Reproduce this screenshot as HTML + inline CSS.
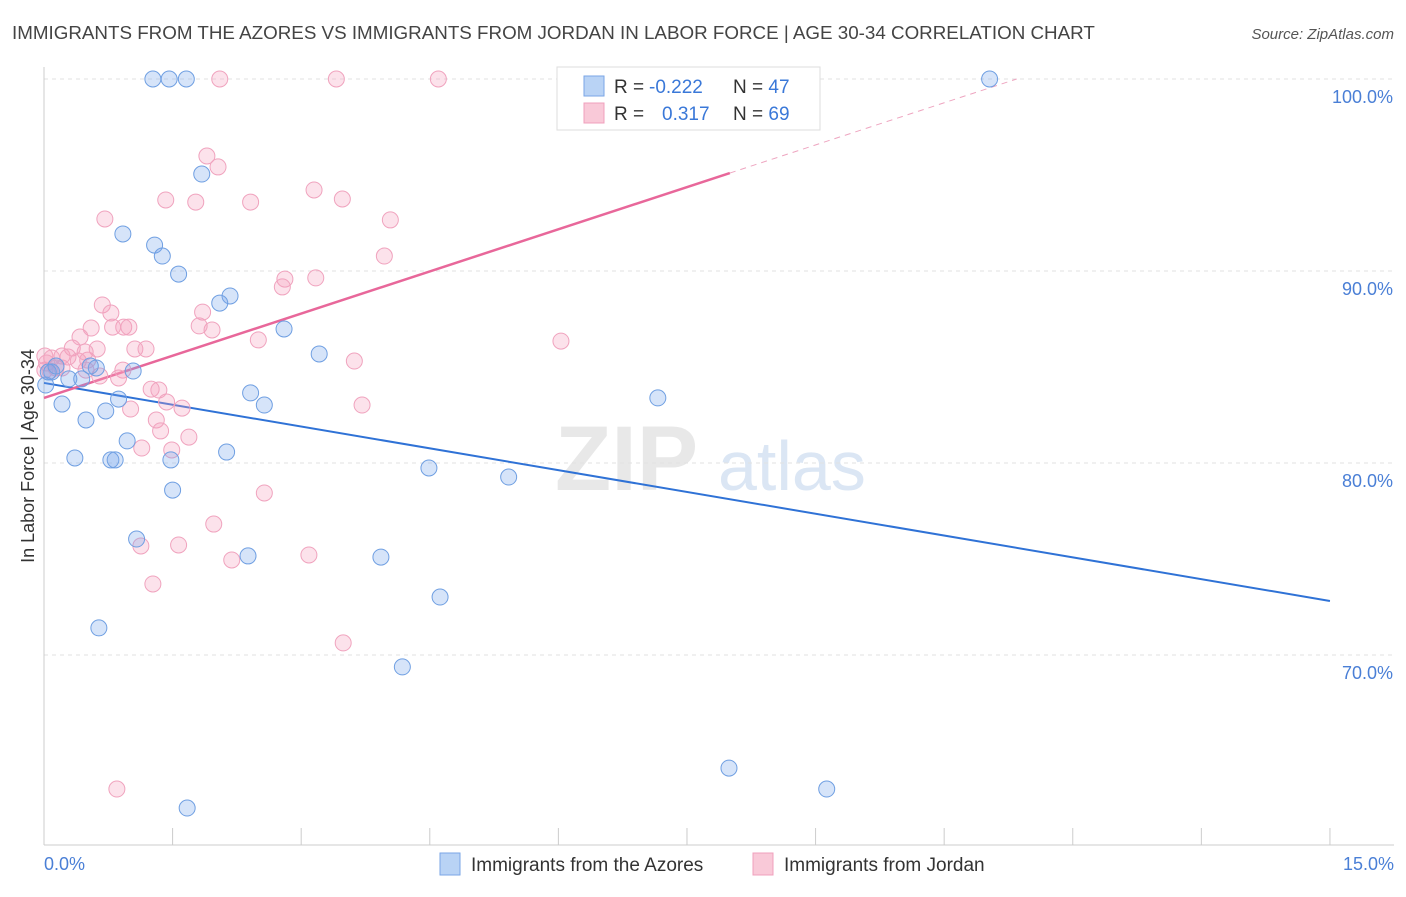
<!DOCTYPE html>
<html><head><meta charset="utf-8"><style>
body{margin:0;background:#fff;font-family:"Liberation Sans",sans-serif;}
svg text{font-family:"Liberation Sans",sans-serif;}
</style></head><body>
<svg id="chart" width="1406" height="892" xmlns="http://www.w3.org/2000/svg">
<text x="12" y="39" font-size="18.8" fill="#444">IMMIGRANTS FROM THE AZORES VS IMMIGRANTS FROM JORDAN IN LABOR FORCE | AGE 30-34 CORRELATION CHART</text>
<text x="1394" y="39" font-size="15" fill="#555" font-style="italic" text-anchor="end">Source: ZipAtlas.com</text>
<g><text x="555" y="490" font-size="92" fill="#e8e8e8" font-family="Liberation Serif" font-weight="bold">ZIP</text><text x="718" y="490" font-size="70" fill="#dbe6f4">atlas</text></g>
<g id="grid"></g><g id="axes"></g><g id="trend"></g><g id="dots"></g>
<g>
<rect x="557" y="67" width="263" height="63" fill="#fff" stroke="#ddd"/>
<rect x="584" y="76" width="20" height="20" fill="#b9d3f5" stroke="#7aa6e6"/>
<rect x="584" y="103" width="20" height="20" fill="#f9c9d8" stroke="#f0a0bc"/>
<text x="614" y="93" font-size="19" fill="#333">R = <tspan fill="#3a78d8" x="649">-0.222</tspan><tspan x="733">N = </tspan><tspan fill="#3a78d8">47</tspan></text>
<text x="614" y="120" font-size="19" fill="#333">R = <tspan fill="#3a78d8" x="662">0.317</tspan><tspan x="733">N = </tspan><tspan fill="#3a78d8">69</tspan></text>
</g>
<g>
<rect x="440" y="853" width="20" height="22" fill="#b9d3f5" stroke="#7aa6e6"/>
<text x="471" y="871" font-size="19" fill="#333">Immigrants from the Azores</text>
<rect x="753" y="853" width="20" height="22" fill="#f9c9d8" stroke="#f0a0bc"/>
<text x="784" y="871" font-size="19" fill="#333">Immigrants from Jordan</text>
</g>
</svg>
<script>
const blueX=[1.27,1.46,1.66,11.03,1.84,0.92,1.29,1.38,1.57,2.17,2.05,2.80,3.21,0.61,1.04,0.09,0.44,0.29,0.02,0.21,0.87,2.41,2.57,0.72,0.49,0.97,0.36,0.78,0.83,1.48,2.13,1.50,4.49,5.42,7.16,1.08,2.38,3.93,4.62,0.64,4.18,7.99,9.13,1.67,0.05,0.14,0.54];
const blueY=[100,100,100,100,95.05,91.93,91.35,90.78,89.84,88.70,88.33,86.98,85.68,84.95,84.79,84.74,84.38,84.38,84.06,83.07,83.33,83.65,83.02,82.71,82.24,81.15,80.26,80.16,80.16,80.16,80.57,78.59,79.74,79.27,83.39,76.04,75.16,75.10,73.02,71.41,69.38,64.11,63.02,62.03,84.74,85.05,85.05];
const pinkX=[2.05,3.41,4.60,1.90,2.03,0.71,1.42,1.77,2.41,3.15,3.48,4.04,3.97,2.81,3.17,2.78,0.68,0.78,1.85,0.55,0.93,0.99,1.96,1.81,0.42,2.50,6.03,0.33,0.62,1.06,1.19,0.21,0.28,0.51,0.01,0.09,0.14,0.21,0.40,0.01,0.92,0.65,0.87,3.62,1.25,1.34,1.01,1.43,1.61,3.71,1.31,1.36,1.69,1.14,1.49,2.57,1.98,1.13,1.57,3.09,2.19,1.27,3.49,0.85,0.03,0.48,0.80,0.49,0.07];
const pinkY=[100,100,100,95.99,95.42,92.71,93.70,93.59,93.59,94.22,93.75,92.66,90.78,89.58,89.64,89.17,88.23,87.81,87.86,87.03,87.08,87.08,86.93,87.14,86.56,86.41,86.35,85.99,85.94,85.94,85.94,85.57,85.52,85.36,85.57,85.47,84.95,84.95,85.31,84.84,84.84,84.53,84.43,85.31,83.85,83.80,82.81,83.18,82.86,83.02,82.24,81.67,81.35,80.78,80.68,78.44,76.82,75.68,75.73,75.21,74.95,73.70,70.63,63.02,85.21,85.78,87.08,84.84,84.79];
const blueTrend=[84.17,-0.757];
const pinkTrend=[83.39,1.464];
const yTicks=[70,80,90,100];
const xTickLabels=["0.0%","15.0%"];
const NS="http://www.w3.org/2000/svg";
const xs=v=>44+v*85.73, ys=v=>79+(100-v)*19.2;
function mk(p,t,a){const e=document.createElementNS(NS,t);for(const k in a)e.setAttribute(k,a[k]);document.getElementById(p).appendChild(e);return e;}
yTicks.forEach(t=>{
 const l=mk('grid','line',{x1:44,x2:1394,y1:ys(t),y2:ys(t),stroke:'#e2e2e2','stroke-dasharray':'4,4'});
 
 
 const tx=mk('grid','text',{x:1393,y:ys(t)+24,'font-size':18,fill:'#4a7fd6','text-anchor':'end'});
 tx.textContent=t.toFixed(1)+'%';
 
 
});
const ax=mk('axes','line',{x1:44,x2:1394,y1:845,y2:845,stroke:'#ccc'});


const ay=mk('axes','line',{x1:44,x2:44,y1:67,y2:845,stroke:'#ccc'});


for(let i=0;i<=10;i++){const t=mk('axes','line',{x1:xs(i*1.5),x2:xs(i*1.5),y1:828,y2:845,stroke:'#ccc'});
 
 }
const xl0=mk('axes','text',{x:44,y:870,'font-size':18,fill:'#4a7fd6'});xl0.textContent=xTickLabels[0];


const xl1=mk('axes','text',{x:1394,y:870,'font-size':18,fill:'#4a7fd6','text-anchor':'end'});xl1.textContent=xTickLabels[1];


const yt=mk('axes','text',{x:34,y:456,'font-size':18,fill:'#333','text-anchor':'middle',transform:'rotate(-90 34 456)'});yt.textContent='In Labor Force | Age 30-34';


const bt=mk('trend','line',{x1:xs(0),y1:ys(blueTrend[0]),x2:xs(15),y2:ys(blueTrend[0]+blueTrend[1]*15),stroke:'#2f72d6','stroke-width':2});


const pe=8.0, pmax=(100-pinkTrend[0])/pinkTrend[1];
const pt=mk('trend','line',{x1:xs(0),y1:ys(pinkTrend[0]),x2:xs(pe),y2:ys(pinkTrend[0]+pinkTrend[1]*pe),stroke:'#e8679a','stroke-width':2.5});


const pd=mk('trend','line',{x1:xs(pe),y1:ys(pinkTrend[0]+pinkTrend[1]*pe),x2:xs(pmax),y2:ys(100),stroke:'#eea5c0','stroke-width':1,'stroke-dasharray':'6,5'});


pinkX.forEach((x,i)=>{const c=mk('dots','circle',{cx:xs(x),cy:ys(pinkY[i]),r:8,fill:'rgba(244,160,190,0.3)',stroke:'#f0a3be','stroke-width':1});
 
 });
blueX.forEach((x,i)=>{const c=mk('dots','circle',{cx:xs(x),cy:ys(blueY[i]),r:8,fill:'rgba(120,165,235,0.3)',stroke:'#6f9fe2','stroke-width':1});
 
 });
</script>
</body></html>
